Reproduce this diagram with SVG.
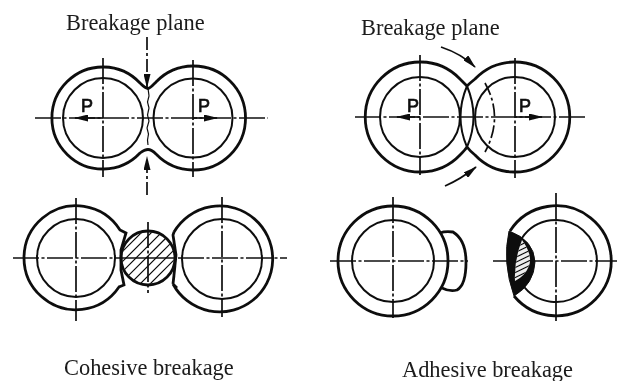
<svg xmlns="http://www.w3.org/2000/svg" width="617" height="381" viewBox="0 0 617 381">
<style>
g[id]{filter:url(#soft)}
.o{fill:none;stroke:#111;stroke-width:2.8}
.i{fill:none;stroke:#111;stroke-width:2}
.c{fill:none;stroke:#111;stroke-width:1.7;stroke-dasharray:26 2.5 3 2.5}
.d{fill:none;stroke:#111;stroke-width:1.7;stroke-dasharray:13 3 3 3}
.h{fill:none;stroke:#111;stroke-width:1.2}
.a{fill:none;stroke:#111;stroke-width:1.7}
.t{font-family:"Liberation Serif","Times New Roman",serif;font-size:22.4px;fill:#1a1a1a}
.p{font-family:"Liberation Sans",Arial,sans-serif;font-size:18px;fill:#111;stroke:#111;stroke-width:.7}
</style>
<defs>
<filter id="soft" x="-5%" y="-5%" width="110%" height="110%"><feGaussianBlur stdDeviation="0.35"/></filter>
<marker id="ah" viewBox="0 0 14 7" refX="13" refY="3.500" markerWidth="14" markerHeight="7" markerUnits="userSpaceOnUse" orient="auto"><path d="M0,0L14,3.500L0,7z" fill="#111"/></marker>
<clipPath id="hc"><circle cx="148" cy="258" r="26"/></clipPath>
<clipPath id="lc"><path d="M522,240Q533,255 529,266Q525,276 515,281Q514,260 522,240z"/></clipPath>
</defs>
<rect width="617" height="381" fill="#fff"/>

<g id="top-left-pair">
<path class="o" d="M140,83A51,51 0 1 0 140,153C144,150 146,149.500 148,149.500C150,149.500 153,151 156,154A52,52 0 1 0 156,82C153,85 150,88.500 148,88.500C146,88.500 144,87 140,83z"/>
<circle class="i" cx="103" cy="118" r="40"/>
<circle class="i" cx="193" cy="118" r="39.500"/>
<path class="c" d="M35,118H268M103,58V177M193,60V177"/>
<path class="h" d="M148,88l1,8l-1.500,6l1.500,6l-1.500,7l1.500,6l-2,7l1.500,6l-1,6l.5,5"/>
<text class="p" x="81" y="112">P</text>
<text class="p" x="198" y="112">P</text>
</g>

<g id="top-right-pair">
<path class="o" d="M460,79A55,55 0 1 0 460,155Q465,150 467,147Q470,151 475,155A55,55 0 1 0 475,79Q470,83 467,86Q464,83 460,79z"/>
<circle class="i" cx="420" cy="117" r="40"/>
<circle class="i" cx="515" cy="117" r="40"/>
<path class="i" d="M467,86Q454,117 467,147M467,86Q480,117 467,147"/>
<path class="c" d="M355,117H585M420,55V175M515,58V178"/>
<path class="d" d="M485,83Q504,117 485,152"/>
<text class="p" x="407" y="112">P</text>
<text class="p" x="519" y="112">P</text>
</g>

<g id="bottom-left-pair">
<path class="o" d="M120,230A52,52 0 1 0 119,287L124,285L121,270L121,250L126,233z"/>
<path class="o" d="M174,232A53,53 0 1 1 173,284L177,288M174,232L173,235L176,255L174,275L173,284"/>
<circle class="i" cx="76" cy="258" r="39"/>
<circle class="i" cx="222" cy="259" r="40"/>
<circle class="o" cx="148" cy="258" r="27"/>
<g clip-path="url(#hc)">
<path class="h" d="M110,264l36,-36M110,274l46,-46M114,280l52,-52M119,285l52,-52M124,290l52,-52M130,294l50,-50M136,298l48,-48M142,302l44,-44"/>
</g>
<path class="c" d="M13,258H120M178,258H287M76,198V321M222,197V317M148,222V293"/>
<path class="a" d="M121,258H175"/>
</g>

<g id="bottom-right-left-part">
<circle class="o" cx="393" cy="261" r="55"/>
<circle class="i" cx="393" cy="261" r="41"/>
<path class="o" d="M440,233Q445,231 453,232Q466,240 466,262Q466,285 457,290Q450,292 442,288"/>
<path class="c" d="M330,261H468M393,197V318"/>
</g>

<g id="bottom-right-right-part">
<path class="o" d="M510,231A55,55 0 1 1 514,296"/>
<path class="i" d="M522,238A41,41 0 1 1 522,284"/>
<path class="c" d="M493,261H617M556,193V322"/>
<path d="M509,231Q534,240 535,262Q534,284 514,296Q502,262 509,231z" fill="#0d0d0d" stroke="#111"/>
<path d="M522,240Q533,255 529,266Q525,276 515,281Q514,260 522,240z" fill="#eee"/>
<g clip-path="url(#lc)">
<path class="h" d="M510,250L535,238M510,255L535,243M510,260L535,248M510,265L535,253M510,270L535,258M510,275L535,263M510,280L535,268M510,285L535,273"/>
</g>
</g>

<g id="connectors">
<path class="d" d="M147,37V87" marker-end="url(#ah)"/>
<path class="d" d="M147,195V157" marker-end="url(#ah)"/>
<path class="a" stroke-width="2.500" d="M103,118H75" marker-end="url(#ah)"/>
<path class="a" stroke-width="2.500" d="M193,118H217" marker-end="url(#ah)"/>
<path class="a" d="M420,117H397" marker-end="url(#ah)"/>
<path class="a" d="M515,117H542" marker-end="url(#ah)"/>
<path class="a" d="M441,47Q462,54 475,67" marker-end="url(#ah)"/>
<path class="a" d="M445,186Q461,179 476,167" marker-end="url(#ah)"/>
</g>

<g id="labels">
<text class="t" x="66" y="30">Breakage plane</text>
<text class="t" x="361" y="35">Breakage plane</text>
<text class="t" x="64" y="375">Cohesive breakage</text>
<text class="t" x="402" y="377">Adhesive breakage</text>
</g>
</svg>
